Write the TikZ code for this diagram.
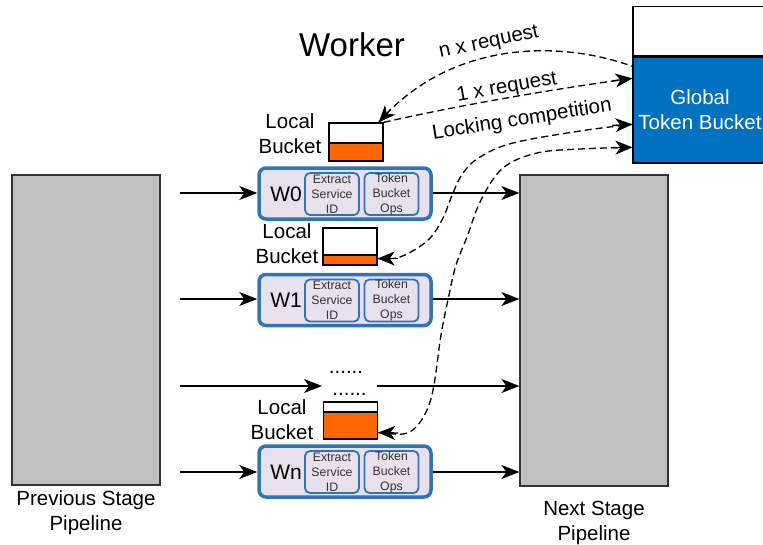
\documentclass[tikz,border=0pt]{standalone}
\usepackage{fontspec}
\setmainfont{Liberation Sans}
\usetikzlibrary{arrows.meta,calc}
\definecolor{wblue}{HTML}{2E75B6}
\definecolor{lav}{HTML}{E8E0EC}
\definecolor{orng}{HTML}{FF6600}
\definecolor{pgray}{HTML}{C0C0C0}
\definecolor{gblue}{HTML}{0070C0}
\definecolor{itext}{HTML}{333333}
\begin{document}
\begin{tikzpicture}[x=1pt,y=-1pt,
  >={Stealth[length=18pt,width=14pt,inset=5pt]},
  lbl/.style={font=\fontsize{20.5}{25}\selectfont, align=center, inner sep=0pt},
  pipe/.style={draw=black!80, fill=pgray, line width=1.2pt, minimum width=148pt, minimum height=310pt, inner sep=0pt},
  wbox/.style={draw=wblue, fill=lav, line width=3.5pt, rounded corners=7pt, minimum width=172pt, minimum height=51pt, inner sep=0pt},
  ibox/.style={draw=wblue, fill=lav, line width=1.8pt, rounded corners=5pt, minimum width=54pt, minimum height=42pt, inner sep=0pt, align=center, text=itext, font=\fontsize{12.3}{15}\selectfont},
  wlbl/.style={font=\fontsize{21}{25}\selectfont, inner sep=0pt},
  bucket/.style={draw=black, line width=1.3pt, fill=white, minimum width=54pt, minimum height=37pt, inner sep=0pt,
    path picture={\fill[orng, draw=black, line width=1.3pt] (path picture bounding box.south west) rectangle ([yshift=#1]path picture bounding box.south east);}},
  arr/.style={->, line width=1.2pt},
  darr/.style={line width=1.3pt, dash pattern=on 7pt off 4pt},
  dtip/.style={line width=1.3pt, -{Stealth[length=17pt,width=14pt,inset=5pt]}},
  tl/.style={font=\fontsize{20.5}{25}\selectfont, inner sep=0pt}
]
\useasboundingbox (0,0) rectangle (763,544);

% pipelines
\node[pipe] (prev) at (86,330) {};
\node[pipe, minimum height=311pt] (next) at (594,330.5) {};
\node[lbl] (prevl) at (86,513) {Previous Stage\\Pipeline};
\node[lbl] (nextl) at (594,523) {Next Stage\\Pipeline};

% title
\node[font=\fontsize{33}{36}\selectfont, inner sep=0pt] (title) at (352,45) {Worker};

% global bucket
\node[draw=black, line width=1.3pt, fill=gblue, minimum width=134pt, minimum height=106pt, inner sep=0pt, text=white, lbl] (g) at (700,110) {Global\\Token Bucket};
\node[draw=black, line width=1.3pt, fill=white, minimum width=134pt, minimum height=49pt, anchor=south] (gtop) at (g.north) {};

% workers
\node[wbox] (w0) at (345,193.5) {};
\node[wlbl] (w0l) at (286,194) {W0};
\node[ibox] (w0a) at (332,194) {Extract\\Service\\ID};
\node[ibox] (w0b) at (391.5,194) {Token\\Bucket\\Ops};

\node[wbox] (w1) at (345,300) {};
\node[wlbl] (w1l) at (286,300) {W1};
\node[ibox] (w1a) at (332,300.5) {Extract\\Service\\ID};
\node[ibox] (w1b) at (391.5,300.5) {Token\\Bucket\\Ops};

\node[wbox] (wn) at (345,471.5) {};
\node[wlbl] (wnl) at (286,472) {Wn};
\node[ibox] (wna) at (332,472) {Extract\\Service\\ID};
\node[ibox] (wnb) at (391.5,472) {Token\\Bucket\\Ops};

% local buckets
\node[bucket=18pt, minimum height=38pt] (b0) at (356,142) {};
\node[lbl] (b0l) at (290,134) {Local\\Bucket};
\node[bucket=10pt] (b1) at (350,246.5) {};
\node[lbl] (b1l) at (287,244) {Local\\Bucket};
\node[bucket=27pt] (bn) at (350.5,420.5) {};
\node[lbl] (bnl) at (282,420) {Local\\Bucket};

% dots row
\node[lbl, anchor=base] (dots1) at (346,373) {......};
\node[lbl, anchor=base] (dots2) at (349.5,395) {......};
\coordinate (din) at (180,386);
\coordinate (dl) at (322,386);
\coordinate (dr) at (377,386);

% input arrows
\coordinate (i0) at (180,193);
\coordinate (i1) at (180,299);
\coordinate (in) at (180,472);
\draw[arr] (i0) -- (w0.west |- i0);
\draw[arr] (i1) -- (w1.west |- i1);
\draw[arr] (in) -- (wn.west |- in);
\draw[arr] (din) -- (dl);

% output arrows
\draw[arr] (w0.east |- i0) -- (next.west |- i0);
\draw[arr] (w1.east |- i1) -- (next.west |- i1);
\draw[arr] (dr) -- (next.west |- dr);
\draw[arr] (wn.east |- in) -- (next.west |- in);

% dashed connectors
\coordinate (g1) at ($(g.north west)+(0,10)$);
\coordinate (g2) at ($(g.north west)+(0,22)$);
\coordinate (g3) at ($(g.north west)+(0,68)$);
\coordinate (g4) at ($(g.north west)+(0,91)$);
\coordinate (e0) at ([xshift=-5pt]b0.north east);
\coordinate (e1) at ([yshift=-12pt]b1.east);
\coordinate (en) at ([yshift=-12pt]bn.east);

\draw[darr] (e0) .. controls (450,40) and (560,40) .. (g1);
\draw[darr] (b0.north east) .. controls (460,105) and (560,88) .. (g2);
\draw[darr] plot[smooth, tension=0.6] coordinates {(e1) (400,257) (427,241) (442,220) (453,193) (463,173) (480,157) (513,143) (580,131) (g3)};
\draw[darr] plot[smooth, tension=0.6] coordinates {(en) (403,434) (416,427) (427,410) (434,385) (441,335) (449,295) (456,265) (467,237) (481,200) (503,168) (537,153) (580,149) (g4)};

% solid tips of the dashed connectors
\draw[dtip] ($(e0)+(12,-13)$) -- (e0);
\draw[dtip] ($(g2)+(-20,2.5)$) -- (g2);
\draw[dtip] ($(e1)+(20,0)$) -- (e1);
\draw[dtip] ($(g3)+(-20,1)$) -- (g3);
\draw[dtip] ($(en)+(20,0.5)$) -- (en);
\draw[dtip] ($(g4)+(-20,0.3)$) -- (g4);

% connector labels
\node[tl, rotate=12] (lbln) at (489,43) {n x request};
\node[tl, rotate=10] (lbl1) at (507,88) {1 x request};
\node[tl, rotate=9] (lbll) at (522,120) {Locking competition};
\end{tikzpicture}
\end{document}
